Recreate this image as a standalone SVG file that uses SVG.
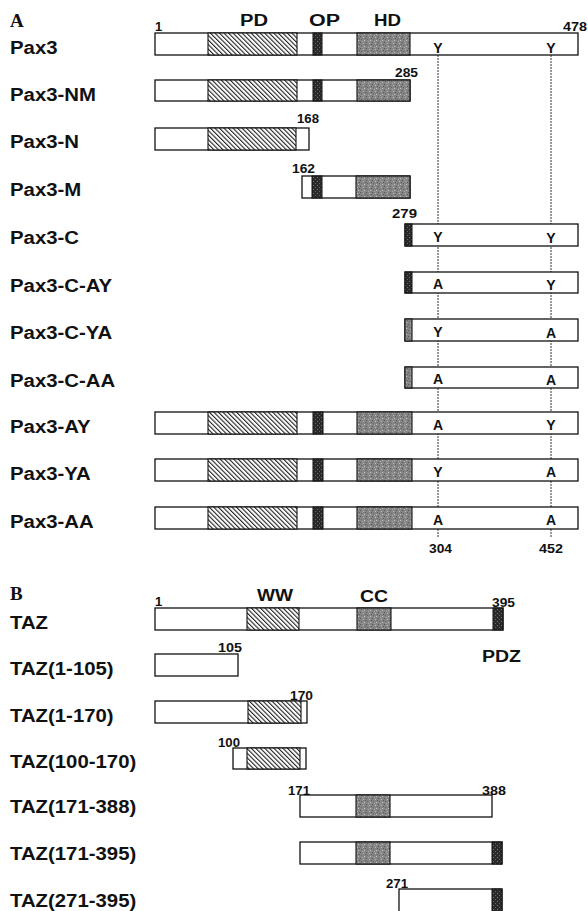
<svg xmlns="http://www.w3.org/2000/svg" width="588" height="911" viewBox="0 0 588 911">
<defs>
<pattern id="hatch" width="3.2" height="3.2" patternUnits="userSpaceOnUse" patternTransform="rotate(-45)">
<rect width="3.2" height="3.2" fill="#fff"/>
<rect width="1.1" height="3.2" fill="#222"/>
</pattern>
<pattern id="speck" width="6" height="6" patternUnits="userSpaceOnUse">
<rect width="6" height="6" fill="#858585"/>
<rect x="0" y="0" width="1" height="1" fill="#555"/>
<rect x="3" y="1" width="1" height="1" fill="#bbb"/>
<rect x="1" y="3" width="1" height="1" fill="#666"/>
<rect x="4" y="4" width="1" height="1" fill="#c4c4c4"/>
<rect x="5" y="2" width="1" height="1" fill="#5a5a5a"/>
<rect x="2" y="5" width="1" height="1" fill="#aaa"/>
</pattern>
<pattern id="dark" width="4" height="4" patternUnits="userSpaceOnUse">
<rect width="4" height="4" fill="#2a2a2a"/>
<rect x="1" y="1" width="1" height="1" fill="#777"/>
<rect x="3" y="3" width="1" height="1" fill="#666"/>
</pattern>
</defs>
<style>
.bar{fill:#fff;stroke:#111;stroke-width:1.3}
.pd{fill:url(#hatch);stroke:#111;stroke-width:1.1}
.hd{fill:url(#speck);stroke:#111;stroke-width:1.1}
.op{fill:url(#dark);stroke:#111;stroke-width:1}
.lbl{font-family:"Liberation Sans",Arial,sans-serif;font-weight:bold;font-size:18.5px;fill:#111}
.dom{font-family:"Liberation Sans",Arial,sans-serif;font-weight:bold;font-size:16px;fill:#111}
.num{font-family:"Liberation Sans",Arial,sans-serif;font-weight:bold;font-size:13px;fill:#111}
.res{font-family:"Liberation Sans",Arial,sans-serif;font-weight:bold;font-size:14px;fill:#111;text-anchor:middle}
.sec{font-family:"Liberation Serif","Times New Roman",serif;font-weight:bold;font-size:19px;fill:#111}
.dot{stroke:#333;stroke-width:1;stroke-dasharray:2 1;fill:none}
</style>
<rect width="588" height="911" fill="#fff"/>

<g id="connectors">
<line class="dot" x1="438" y1="55" x2="438" y2="538"/>
<line class="dot" x1="551" y1="55" x2="551" y2="538"/>
</g>

<text class="sec" x="10" y="27">A</text>
<text class="sec" x="10" y="600">B</text>

<g id="labels" transform="scale(1.1,1)">
<text class="lbl" x="9.1" y="54">Pax3</text>
<text class="lbl" x="9.1" y="101">Pax3-NM</text>
<text class="lbl" x="9.1" y="148">Pax3-N</text>
<text class="lbl" x="9.1" y="196">Pax3-M</text>
<text class="lbl" x="9.1" y="244">Pax3-C</text>
<text class="lbl" x="9.1" y="292">Pax3-C-AY</text>
<text class="lbl" x="9.1" y="339">Pax3-C-YA</text>
<text class="lbl" x="9.1" y="387">Pax3-C-AA</text>
<text class="lbl" x="9.1" y="433">Pax3-AY</text>
<text class="lbl" x="9.1" y="480">Pax3-YA</text>
<text class="lbl" x="9.1" y="528">Pax3-AA</text>
<text class="lbl" x="9.1" y="629">TAZ</text>
<text class="lbl" x="9.1" y="675">TAZ(1-105)</text>
<text class="lbl" x="9.1" y="722">TAZ(1-170)</text>
<text class="lbl" x="9.1" y="768">TAZ(100-170)</text>
<text class="lbl" x="9.1" y="813">TAZ(171-388)</text>
<text class="lbl" x="9.1" y="860">TAZ(171-395)</text>
<text class="lbl" x="9.1" y="907">TAZ(271-395)</text>
</g>

<g id="domain-labels">
<text class="dom" x="240" y="26" textLength="28" lengthAdjust="spacingAndGlyphs">PD</text>
<text class="dom" x="309" y="26" textLength="31" lengthAdjust="spacingAndGlyphs">OP</text>
<text class="dom" x="374" y="26" textLength="27" lengthAdjust="spacingAndGlyphs">HD</text>
<text class="dom" x="257" y="601" textLength="36" lengthAdjust="spacingAndGlyphs">WW</text>
<text class="dom" x="360" y="602" textLength="28" lengthAdjust="spacingAndGlyphs">CC</text>
<text class="dom" x="482" y="662" textLength="39" lengthAdjust="spacingAndGlyphs">PDZ</text>
</g>

<g id="pax3">
<rect class="bar" x="155" y="33" width="423" height="22"/>
<rect class="pd" x="208" y="33" width="89" height="22"/>
<rect class="op" x="313" y="33" width="9" height="22"/>
<rect class="hd" x="357" y="33" width="53" height="22"/>
<text class="num" x="155" y="31">1</text>
<text class="num" x="563" y="31" textLength="24" lengthAdjust="spacingAndGlyphs">478</text>
<text class="res" x="438" y="53">Y</text>
<text class="res" x="551" y="53">Y</text>
</g>

<g id="pax3-nm">
<rect class="bar" x="155" y="80" width="255" height="21"/>
<rect class="pd" x="208" y="80" width="89" height="21"/>
<rect class="op" x="313" y="80" width="9" height="21"/>
<rect class="hd" x="357" y="80" width="53" height="21"/>
<text class="num" x="395" y="77" textLength="23" lengthAdjust="spacingAndGlyphs">285</text>
</g>

<g id="pax3-n">
<rect class="bar" x="155" y="128" width="154" height="22"/>
<rect class="pd" x="208" y="128" width="88" height="22"/>
<text class="num" x="297" y="123" textLength="22" lengthAdjust="spacingAndGlyphs">168</text>
</g>

<g id="pax3-m">
<rect class="bar" x="302" y="176" width="108" height="22"/>
<rect class="op" x="312" y="176" width="10" height="22"/>
<rect class="hd" x="356" y="176" width="54" height="22"/>
<text class="num" x="292" y="173" textLength="23" lengthAdjust="spacingAndGlyphs">162</text>
</g>

<g id="pax3-c">
<rect class="bar" x="405" y="224" width="173" height="22"/>
<rect class="op" x="405" y="224" width="7" height="22"/>
<text class="num" x="392" y="218" textLength="25" lengthAdjust="spacingAndGlyphs">279</text>
<text class="res" x="438" y="242">Y</text>
<text class="res" x="551" y="243">Y</text>
</g>

<g id="pax3-c-ay">
<rect class="bar" x="405" y="272" width="173" height="21"/>
<rect class="op" x="405" y="272" width="7" height="21"/>
<text class="res" x="438" y="289">A</text>
<text class="res" x="551" y="290">Y</text>
</g>

<g id="pax3-c-ya">
<rect class="bar" x="405" y="319" width="173" height="22"/>
<rect class="hd" x="405" y="319" width="7" height="22"/>
<text class="res" x="438" y="337">Y</text>
<text class="res" x="551" y="338">A</text>
</g>

<g id="pax3-c-aa">
<rect class="bar" x="405" y="367" width="173" height="21"/>
<rect class="hd" x="405" y="367" width="7" height="21"/>
<text class="res" x="438" y="384">A</text>
<text class="res" x="551" y="385">A</text>
</g>

<g id="pax3-ay">
<rect class="bar" x="155" y="412" width="423" height="22"/>
<rect class="pd" x="208" y="412" width="89" height="22"/>
<rect class="op" x="313" y="412" width="10" height="22"/>
<rect class="hd" x="357" y="412" width="55" height="22"/>
<text class="res" x="438" y="430">A</text>
<text class="res" x="551" y="430">Y</text>
</g>

<g id="pax3-ya">
<rect class="bar" x="155" y="459" width="423" height="22"/>
<rect class="pd" x="208" y="459" width="89" height="22"/>
<rect class="op" x="313" y="459" width="10" height="22"/>
<rect class="hd" x="357" y="459" width="55" height="22"/>
<text class="res" x="438" y="477">Y</text>
<text class="res" x="551" y="477">A</text>
</g>

<g id="pax3-aa">
<rect class="bar" x="155" y="507" width="423" height="22"/>
<rect class="pd" x="208" y="507" width="89" height="22"/>
<rect class="op" x="313" y="507" width="10" height="22"/>
<rect class="hd" x="357" y="507" width="55" height="22"/>
<text class="res" x="438" y="525">A</text>
<text class="res" x="551" y="525">A</text>
<text class="num" x="429" y="553" textLength="23" lengthAdjust="spacingAndGlyphs">304</text>
<text class="num" x="539" y="553" textLength="24" lengthAdjust="spacingAndGlyphs">452</text>
</g>

<g id="taz">
<rect class="bar" x="155" y="608" width="348" height="22"/>
<rect class="pd" x="247" y="608" width="52" height="22"/>
<rect class="hd" x="357" y="608" width="34" height="22"/>
<rect class="op" x="493" y="608" width="10" height="22"/>
<text class="num" x="155" y="606">1</text>
<text class="num" x="492" y="607" textLength="23" lengthAdjust="spacingAndGlyphs">395</text>
</g>

<g id="taz-1-105">
<rect class="bar" x="155" y="654" width="83" height="22"/>
<text class="num" x="218" y="652" textLength="24" lengthAdjust="spacingAndGlyphs">105</text>
</g>

<g id="taz-1-170">
<rect class="bar" x="155" y="701" width="152" height="22"/>
<rect class="pd" x="248" y="701" width="53" height="22"/>
<text class="num" x="290" y="700" textLength="23" lengthAdjust="spacingAndGlyphs">170</text>
</g>

<g id="taz-100-170">
<rect class="bar" x="233" y="748" width="73" height="21"/>
<rect class="pd" x="247" y="748" width="53" height="21"/>
<text class="num" x="218" y="747" textLength="22" lengthAdjust="spacingAndGlyphs">100</text>
</g>

<g id="taz-171-388">
<rect class="bar" x="300" y="795" width="192" height="22"/>
<rect class="hd" x="356" y="795" width="34" height="22"/>
<text class="num" x="288" y="795" textLength="22" lengthAdjust="spacingAndGlyphs">171</text>
<text class="num" x="482" y="795" textLength="24" lengthAdjust="spacingAndGlyphs">388</text>
</g>

<g id="taz-171-395">
<rect class="bar" x="300" y="842" width="202" height="22"/>
<rect class="hd" x="356" y="842" width="34" height="22"/>
<rect class="op" x="492" y="842" width="10" height="22"/>
</g>

<g id="taz-271-395">
<rect class="bar" x="399" y="889" width="103" height="24"/>
<rect class="op" x="492" y="889" width="10" height="24"/>
<text class="num" x="386" y="888" textLength="22" lengthAdjust="spacingAndGlyphs">271</text>
</g>
</svg>
